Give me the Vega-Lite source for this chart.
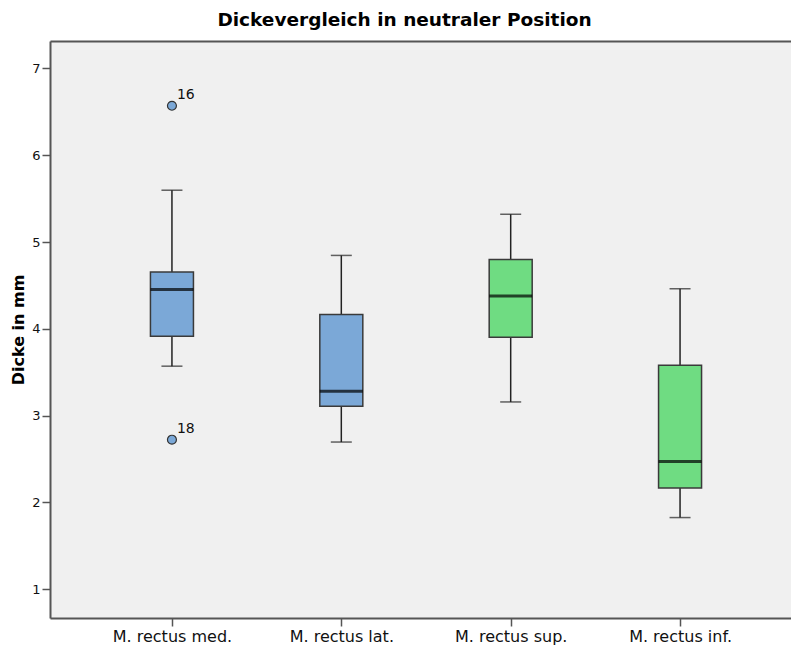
{
  "$schema": "https://vega.github.io/schema/vega-lite/v6.json",
  "autosize": {"type": "none"},
  "width": 741,
  "height": 577,
  "padding": {"left": 50, "top": 41, "right": 0, "bottom": 34},
  "background": "white",
  "title": {
    "text": "Dickevergleich in neutraler Position",
    "font": "DejaVu Sans",
    "fontSize": 18.5,
    "fontWeight": "bold",
    "color": "#000000",
    "anchor": "middle",
    "dx": -16,
    "offset": 12
  },
  "config": {
    "view": {"fill": "#F0F0F0", "stroke": null},
    "axis": {
      "labelFont": "DejaVu Sans",
      "titleFont": "DejaVu Sans",
      "domainColor": "#555555",
      "domainWidth": 2,
      "tickColor": "#555555",
      "tickWidth": 1.5,
      "tickSize": 8,
      "labelColor": "#111111",
      "grid": false
    }
  },
  "datasets": {
    "boxes": [
      {"Muskel": "M. rectus med.", "Gruppe": "horizontal", "min": 3.57, "q1": 3.915, "median": 4.454, "q3": 4.654, "max": 5.597},
      {"Muskel": "M. rectus lat.", "Gruppe": "horizontal", "min": 2.696, "q1": 3.107, "median": 3.281, "q3": 4.166, "max": 4.846},
      {"Muskel": "M. rectus sup.", "Gruppe": "vertikal", "min": 3.158, "q1": 3.904, "median": 4.377, "q3": 4.8, "max": 5.32},
      {"Muskel": "M. rectus inf.", "Gruppe": "vertikal", "min": 1.826, "q1": 2.166, "median": 2.473, "q3": 3.58, "max": 4.462}
    ],
    "ausreisser": [
      {"Muskel": "M. rectus med.", "Gruppe": "horizontal", "Dicke": 6.57, "Fall": "16"},
      {"Muskel": "M. rectus med.", "Gruppe": "horizontal", "Dicke": 2.723, "Fall": "18"}
    ]
  },
  "resolve": {"axis": {"x": "independent"}},
  "layer": [
    {
      "data": {"name": "boxes"},
      "encoding": {
        "x": {
          "field": "Muskel",
          "type": "nominal",
          "sort": null,
          "scale": {"type": "point", "domain": ["M. rectus med.", "M. rectus lat.", "M. rectus sup.", "M. rectus inf."], "range": [0, 752], "padding": 0.72},
          "axis": {"orient": "bottom", "title": null, "labelFontSize": 16, "labelAngle": 0, "labelPadding": 2}
        }
      },
      "layer": [
        {
          "mark": {"type": "rule", "color": "#222222", "strokeWidth": 1.5},
          "encoding": {
            "y": {
              "field": "min",
              "type": "quantitative",
              "scale": {"domain": [0.669, 7.316], "nice": false, "zero": false},
              "axis": {"values": [1, 2, 3, 4, 5, 6, 7], "format": "d", "title": "Dicke in mm", "titleFontSize": 16, "titleFontWeight": "bold", "titleColor": "#000000", "labelFontSize": 13, "labelPadding": 2, "titlePadding": 5}
            },
            "y2": {"field": "max"}
          }
        },
        {
          "mark": {"type": "tick", "color": "#222222", "size": 21, "thickness": 1.5},
          "encoding": {"y": {"field": "min", "type": "quantitative"}}
        },
        {
          "mark": {"type": "tick", "color": "#222222", "size": 21, "thickness": 1.5},
          "encoding": {"y": {"field": "max", "type": "quantitative"}}
        },
        {
          "mark": {"type": "bar", "size": 43, "stroke": "#3a3a3a", "strokeWidth": 1.5, "opacity": 1},
          "encoding": {
            "y": {"field": "q1", "type": "quantitative"},
            "y2": {"field": "q3"},
            "color": {"field": "Gruppe", "type": "nominal", "scale": {"domain": ["horizontal", "vertikal"], "range": ["#7BA8D7", "#6FDC82"]}, "legend": null}
          }
        },
        {
          "mark": {"type": "tick", "color": "#000000", "size": 43, "thickness": 3},
          "encoding": {"y": {"field": "median", "type": "quantitative"}}
        }
      ]
    },
    {
      "data": {"name": "ausreisser"},
      "encoding": {
        "x": {
          "field": "Muskel",
          "type": "nominal",
          "sort": null,
          "axis": {"orient": "top", "title": null, "labels": false, "ticks": false, "domain": true}
        },
        "y": {
          "field": "Dicke",
          "type": "quantitative",
          "axis": {"values": [1, 2, 3, 4, 5, 6, 7], "format": "d", "title": "Dicke in mm", "titleFontSize": 16, "titleFontWeight": "bold", "titleColor": "#000000", "labelFontSize": 13, "labelPadding": 2, "titlePadding": 5}
        }
      },
      "layer": [
        {
          "mark": {"type": "point", "filled": true, "shape": "circle", "size": 80, "stroke": "#333333", "strokeWidth": 1.2, "opacity": 1},
          "encoding": {
            "fill": {"field": "Gruppe", "type": "nominal", "scale": {"domain": ["horizontal", "vertikal"], "range": ["#7BA8D7", "#6FDC82"]}, "legend": null}
          }
        },
        {
          "mark": {"type": "text", "align": "left", "baseline": "bottom", "dx": 5, "dy": -4, "font": "DejaVu Sans", "fontSize": 14, "color": "#111111"},
          "encoding": {"text": {"field": "Fall"}}
        }
      ]
    }
  ]
}
